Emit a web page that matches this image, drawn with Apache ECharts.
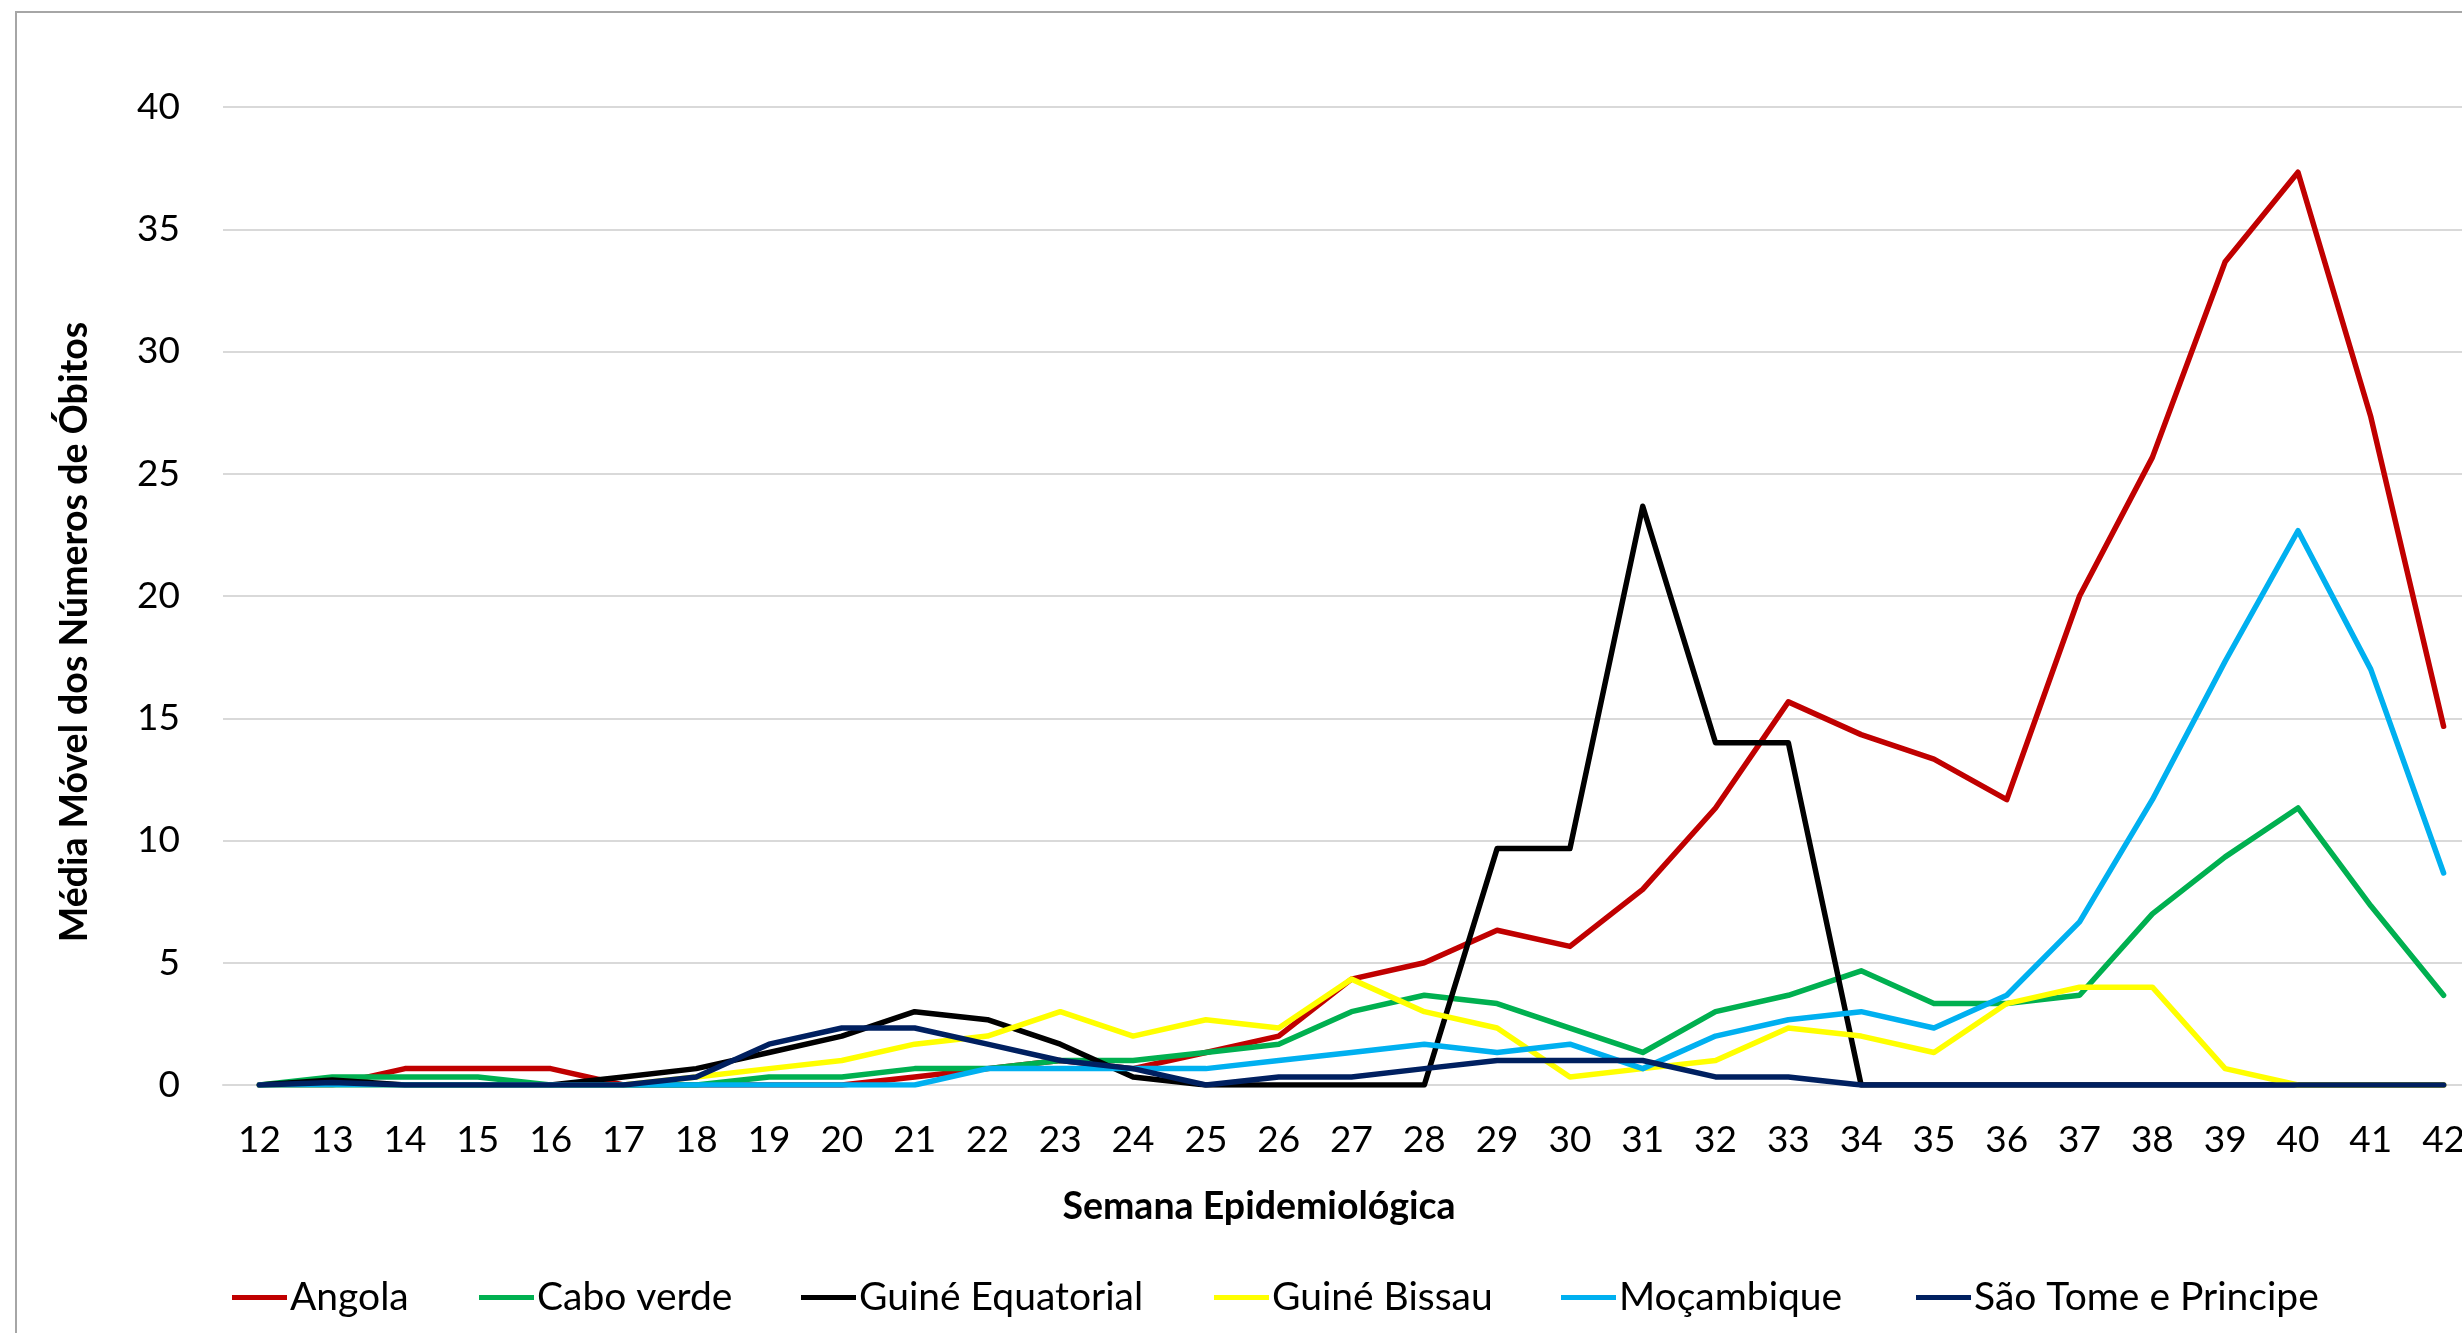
<!DOCTYPE html>
<html>
<head>
<meta charset="utf-8">
<script src="https://cdn.jsdelivr.net/npm/echarts@6/dist/echarts.min.js"></script>
<style>
html,body{margin:0;padding:0;background:#fff;overflow:hidden;}
#chart{width:2500px;height:1333px;}
</style>
</head>
<body>
<div id="chart"></div>
<script>
const weeks = ['12','13','14','15','16','17','18','19','20','21','22','23','24','25','26','27','28','29','30','31','32','33','34','35','36','37','38','39','40','41','42'];
const seriesNames = ['Angola','Cabo verde','Guiné Equatorial','Guiné Bissau','Moçambique','São Tome e Principe'];
const angola      = [0,0,0.67,0.67,0.67,0,0,0,0,0.33,0.67,1.0,0.67,1.33,2.0,4.33,5.0,6.33,5.67,8.0,11.33,15.67,14.33,13.33,11.67,20.0,25.67,33.67,37.33,27.33,14.67];
const caboVerde   = [0,0.33,0.33,0.33,0,0,0,0.33,0.33,0.67,0.67,1.0,1.0,1.33,1.67,3.0,3.67,3.33,2.33,1.33,3.0,3.67,4.67,3.33,3.33,3.67,7.0,9.33,11.33,7.33,3.67];
const guineEq     = [0,0.2,0,0,0,0.33,0.67,1.33,2.0,3.0,2.67,1.67,0.33,0,0,0,0,9.67,9.67,23.67,14.0,14.0,0,0,0,0,0,0,0,0,0];
const guineBissau = [0,0,0,0,0,0,0.33,0.67,1.0,1.67,2.0,3.0,2.0,2.67,2.33,4.33,3.0,2.33,0.33,0.67,1.0,2.33,2.0,1.33,3.33,4.0,4.0,0.67,0,0,0];
const mocambique  = [0,0,0,0,0,0,0,0,0,0,0.67,0.67,0.67,0.67,1.0,1.33,1.67,1.33,1.67,0.67,2.0,2.67,3.0,2.33,3.67,6.67,11.67,17.33,22.67,17.0,8.67];
const saoTome     = [0,0.1,0,0,0,0,0.33,1.67,2.33,2.33,1.67,1.0,0.67,0,0.33,0.33,0.67,1.0,1.0,1.0,0.33,0.33,0,0,0,0,0,0,0,0,0];
const yTicks = [0,5,10,15,20,25,30,35,40];

const values = [angola, caboVerde, guineEq, guineBissau, mocambique, saoTome];
const colors = ['#C00000','#00B050','#000000','#FFFF00','#00B0F0','#002060'];
const legendLeft = [232, 479, 801, 1214, 1561, 1916];
const FONT = 'Lato';

const chart = echarts.init(document.getElementById('chart'), null, {renderer:'canvas'});
chart.setOption({
  animation: false,
  backgroundColor: '#ffffff',
  grid: { left: 223, top: 107, width: 2257, height: 978, containLabel: false },
  xAxis: {
    type: 'category',
    data: weeks,
    boundaryGap: true,
    axisLine: { show: true, lineStyle: { color: '#d9d9d9', width: 2 } },
    axisTick: { show: false },
    axisLabel: { interval: 0, margin: 37, color: '#000', fontFamily: FONT, fontSize: 37 },
    splitLine: { show: false }
  },
  yAxis: {
    type: 'value',
    min: yTicks[0], max: yTicks[yTicks.length-1], interval: 5,
    axisLine: { show: false },
    axisTick: { show: false },
    axisLabel: { margin: 43, color: '#000', fontFamily: FONT, fontSize: 37 },
    splitLine: { show: true, lineStyle: { color: '#d9d9d9', width: 2 } }
  },
  legend: seriesNames.map((n, i) => ({
    data: [{ name: n, icon: 'rect', itemStyle: { color: colors[i] } }],
    left: legendLeft[i],
    top: 1278,
    itemWidth: 55,
    itemHeight: 5,
    itemGap: 0,
    padding: 0,
    textStyle: { color: '#000', fontFamily: FONT, fontSize: 39, padding: [0,0,0,-2] }
  })),
  graphic: [
    { type: 'rect', silent: true, shape: { x: 16, y: 12, width: 2600, height: 1500 },
      style: { fill: 'none', stroke: '#a6a6a6', lineWidth: 2 } },
    { type: 'text', x: 1259, y: 1207, silent: true,
      style: { text: 'Semana Epidemiológica', fontFamily: FONT, fontWeight: 'bold', fontSize: 37.5, fill: '#000', align: 'center', verticalAlign: 'middle' } },
    { type: 'text', x: 75, y: 632, rotation: Math.PI/2, silent: true,
      style: { text: 'Média Móvel dos Números de Óbitos', fontFamily: FONT, fontWeight: 'bold', fontSize: 37.5, fill: '#000', align: 'center', verticalAlign: 'middle' } }
  ],
  series: seriesNames.map((n, i) => ({
    name: n,
    type: 'line',
    data: values[i],
    symbol: 'none',
    showSymbol: false,
    color: colors[i],
    lineStyle: { color: colors[i], width: 5.5, join: 'round', cap: 'round' },
    z: 2 + i
  }))
});
</script>
</body>
</html>
